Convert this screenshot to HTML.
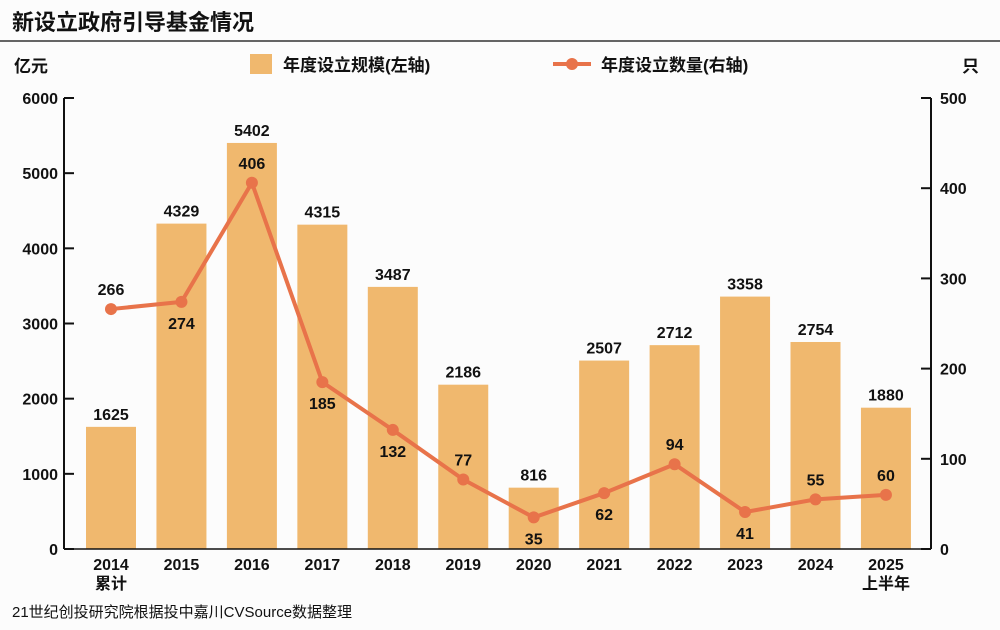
<!DOCTYPE html>
<html><head><meta charset="utf-8">
<style>
body{margin:0;background:#fcfcfc;}
svg{display:block;font-family:"Liberation Sans","Noto Sans CJK SC",sans-serif;}
</style></head>
<body>
<svg id="chart" width="1000" height="630" viewBox="0 0 1000 630">
<rect width="1000" height="630" fill="#fcfcfc"/>
<text x="12" y="30" font-size="22" font-weight="bold" fill="#111">新设立政府引导基金情况</text>
<line x1="0" y1="41" x2="1000" y2="41" stroke="#333" stroke-width="1.5"/>
<text x="14" y="72" font-size="17" font-weight="bold" fill="#111">亿元</text>
<text x="962" y="72" font-size="17" font-weight="bold" fill="#111">只</text>
<g>
<rect x="250" y="54" width="22" height="20" fill="#f0b86e"/>
<text x="283" y="71" font-size="17" font-weight="bold" fill="#111">年度设立规模(左轴)</text>
<line x1="553" y1="64" x2="591" y2="64" stroke="#e8734a" stroke-width="4"/>
<circle cx="572" cy="64" r="6" fill="#e8734a"/>
<text x="601" y="71" font-size="17" font-weight="bold" fill="#111">年度设立数量(右轴)</text>
</g>
<g id="plot"></g>
<text x="12" y="617" font-size="15" fill="#111">21世纪创投研究院根据投中嘉川CVSource数据整理</text>
</svg>
<script>
const categories=["2014","2015","2016","2017","2018","2019","2020","2021","2022","2023","2024","2025"];
const subLabels=["累计","","","","","","","","","","","上半年"];
const amounts=[1625,4329,5402,4315,3487,2186,816,2507,2712,3358,2754,1880];
const counts=[266,274,406,185,132,77,35,62,94,41,55,60];
const countLabelAbove=[true,false,true,false,false,true,false,false,true,false,true,true];
const leftTicks=[0,1000,2000,3000,4000,5000,6000];
const rightTicks=[0,100,200,300,400,500];

const NS="http://www.w3.org/2000/svg";
const g=document.getElementById('plot');
const y0=549,yTop=98;
const yL=v=>y0-(v/6000)*(y0-yTop);
const yR=v=>y0-(v/500)*(y0-yTop);
const xC=i=>111+i*70.45;
function mk(tag,attrs,text){const e=document.createElementNS(NS,tag);for(const k in attrs)e.setAttribute(k,attrs[k]);if(text!==undefined)e.textContent=text;g.appendChild(e);return e;}

amounts.forEach((v,i)=>{
 const r=mk('rect',{x:xC(i)-25,y:yL(v),width:50,height:y0-yL(v),fill:'#f0b86e'});
 
 
 const t=mk('text',{x:xC(i),y:yL(v)-7,'font-size':16,'font-weight':'bold','text-anchor':'middle',fill:'#111'},String(v));
 
 
 const c=mk('text',{x:xC(i),y:570,'font-size':16,'font-weight':'bold','text-anchor':'middle',fill:'#111'},categories[i]);
 
 
 if(subLabels[i]){
  const s=mk('text',{x:xC(i),y:589,'font-size':16,'font-weight':'bold','text-anchor':'middle',fill:'#111'},subLabels[i]);
  
  
 }
});
// axes
const al=mk('line',{x1:64,y1:yTop,x2:64,y2:y0,stroke:'#111','stroke-width':2});


const ar=mk('line',{x1:931,y1:yTop,x2:931,y2:y0,stroke:'#111','stroke-width':2});


const ab=mk('line',{x1:64,y1:y0,x2:931,y2:y0,stroke:'#111','stroke-width':1.5});


leftTicks.forEach(v=>{
 const l=mk('line',{x1:64,y1:yL(v),x2:74,y2:yL(v),stroke:'#111','stroke-width':2});
 
 
 const t=mk('text',{x:58,y:yL(v)+6,'font-size':16,'font-weight':'bold','text-anchor':'end',fill:'#111'},String(v));
 
 
});
rightTicks.forEach(v=>{
 const l=mk('line',{x1:921,y1:yR(v),x2:931,y2:yR(v),stroke:'#111','stroke-width':2});
 
 
 const t=mk('text',{x:940,y:yR(v)+6,'font-size':16,'font-weight':'bold','text-anchor':'start',fill:'#111'},String(v));
 
 
});
// line
const pts=counts.map((v,i)=>xC(i)+','+yR(v)).join(' ');
const pl=mk('polyline',{points:pts,fill:'none',stroke:'#e8734a','stroke-width':4,'stroke-linejoin':'round'});


counts.forEach((v,i)=>{
 const c=mk('circle',{cx:xC(i),cy:yR(v),r:6,fill:'#e8734a'});
 
 
 const ty=countLabelAbove[i]?yR(v)-14:yR(v)+27;
 const t=mk('text',{x:xC(i),y:ty,'font-size':16,'font-weight':'bold','text-anchor':'middle',fill:'#111'},String(v));
 
 
});
</script>
</body></html>
